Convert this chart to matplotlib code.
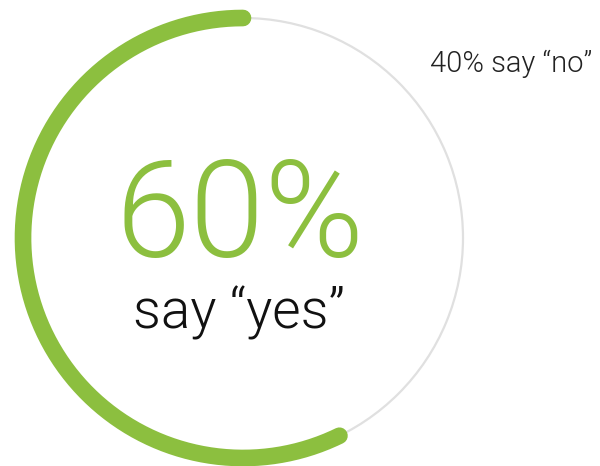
import numpy as np
import matplotlib
matplotlib.use("Agg")
import matplotlib.pyplot as plt
from matplotlib.patches import Arc

# data
labels = ["yes", "no"]
values = [60, 40]          # percent
main_text = "60%"
sub_text = "say \u201cyes\u201d"
side_text = "40% say \u201cno\u201d"

GREEN = "#8cbf3f"
GRAY = "#e0e0e0"

fig = plt.figure(figsize=(6.0, 4.66), dpi=100)
ax = fig.add_axes([0, 0, 1, 1])
ax.set_xlim(0, 600)
ax.set_ylim(466, 0)
ax.set_aspect("equal")
ax.axis("off")

cx, cy, r = 243, 238, 220
frac = values[0] / sum(values)
pad = 10  # visual pad (deg)

# background ring
ax.add_patch(Arc((cx, cy), 2 * r, 2 * r, theta1=0, theta2=360,
                 color=GRAY, lw=1.6))

# green arc, counterclockwise from top (y axis inverted)
start = 90
span = 360 * frac - pad
th = np.radians(np.linspace(start, start + span, 400))
xs = cx + r * np.cos(th)
ys = cy - r * np.sin(th)
ax.plot(xs, ys, color=GREEN, lw=12, solid_capstyle="round")

ax.text(240, 257, main_text, color=GREEN, fontsize=97, family="Roboto",
        fontweight=300, ha="center", va="baseline")
ax.text(239, 329, sub_text, color="#111111", fontsize=39.5, family="Roboto",
        fontweight=300, ha="center", va="baseline")
ax.text(592, 72, side_text, color="#222222", fontsize=21, family="Roboto",
        fontweight=300, ha="right", va="baseline")

fig.savefig("out.png", dpi=100)
